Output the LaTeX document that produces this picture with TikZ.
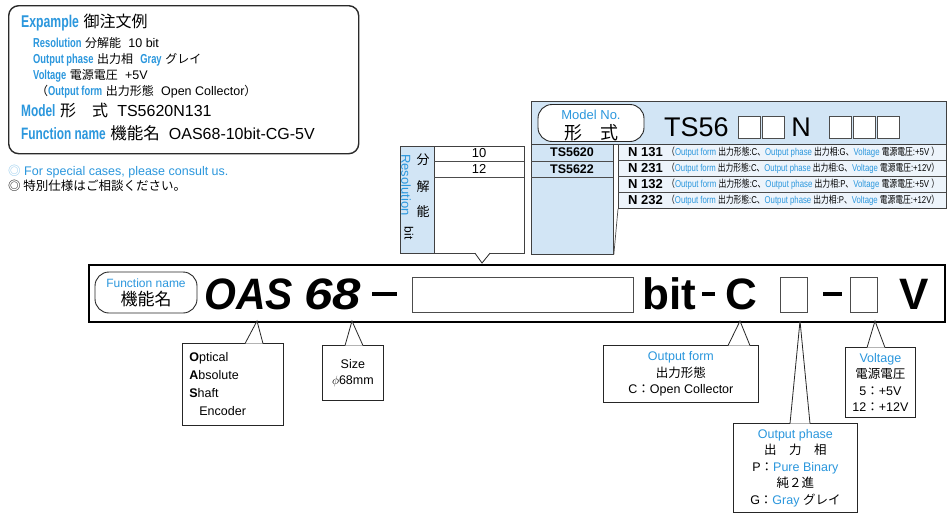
\documentclass[tikz,border=0pt]{standalone}
\usepackage{graphicx}
\usepackage{fontspec}
\setmainfont{Liberation Sans}
\newfontfamily\jpfont{Noto Sans CJK JP}
\newfontfamily\condfont[FakeStretch=0.78]{Liberation Sans}
\newfontfamily\condbold[FakeStretch=0.72]{Liberation Sans Bold}
\newfontfamily\jpnarrow[FakeStretch=0.78]{Noto Sans CJK JP}
\usetikzlibrary{positioning}
\usetikzlibrary{calc}
\definecolor{tblue}{HTML}{2B97DD}
\definecolor{cellblue}{HTML}{D2E5F5}
\definecolor{rowblue}{HTML}{EDF4FB}
\definecolor{exframecol}{HTML}{2A2A2A}
\newcommand\jp[1]{{\jpfont #1}}
\newcommand\jpn[1]{{\jpnarrow #1}}
\newcommand\bl[1]{{\color{tblue}#1}}
\newcommand\lab[1]{{\condfont\color{tblue}#1}}
\newcommand\blab[1]{{\condbold\color{tblue}#1}}
\newcommand\fs[1]{\fontsize{#1}{#1}\selectfont}
% one line of the N code list
\newcommand\speclist[2]{{\condfont\jpn{（}\lab{Output form} \jpn{出力形態}:C\jpn{、}\lab{Output phase} \jpn{出力相}:#1\jpn{、}\lab{Voltage} \jpn{電源電圧}:#2\jpn{）}}}
\tikzset{
  txt/.style = {anchor=west, inner sep=0pt},
  ctr/.style = {inner sep=0pt},
  % rounded frame round the ordering example
  exframe/.style = {draw=exframecol, line width=1.4pt, rounded corners=10pt, anchor=north west},
  % pill shaped label
  pill/.style = {draw=black!85, line width=0.9pt, fill=white, rounded corners=14pt, inner sep=0pt},
  % cells of the tables
  cell/.style = {draw=black!75, line width=0.8pt, anchor=north west, inner sep=0pt},
  blank/.style = {draw=black!70, line width=0.7pt, fill=white, inner sep=0pt, minimum width=22pt, minimum height=22pt},
  rule/.style = {draw=black!70, line width=0.7pt},
  dashbar/.style = {fill=black, inner sep=0pt, minimum height=3.6pt},
  % boxes under the function name
  callbox/.style = {draw=black!85, line width=0.8pt, fill=white, anchor=north west, align=center, inner sep=0pt, font={\fontsize{12.5}{16.5}\selectfont}},
  ptr/.style = {draw=black!85, line width=0.8pt, fill=white},
  big/.style = {anchor=base west, inner sep=0pt, font={\fontsize{44}{44}\selectfont\bfseries}},
  node distance = 1.5pt
}
\begin{document}
\begin{tikzpicture}[x=1pt, y=-1pt]
  \useasboundingbox (0,0) rectangle (949,514);
  \fill[white] (0,0) rectangle (949,514);

  % ordering example
  \node[exframe, minimum width=350pt, minimum height=148pt] (example) at (8,5) {};
  \node[txt] (exTitle) at (21,23) {\fs{17}\blab{Expample} \jp{\fs{16}御注文例}};
  \node[txt] (exRes) at (33,43) {\fs{13}\blab{Resolution} \jp{\fs{12}分解能}\ \ \fs{12.5}10 bit};
  \node[txt] (exPhase) at (33,60) {\fs{13}\blab{Output phase} \jp{\fs{12}出力相}\ \ \blab{Gray} \jp{\fs{12}グレイ}};
  \node[txt] (exVolt) at (33,76) {\fs{13}\blab{Voltage} \jp{\fs{12}電源電圧}\ \ \fs{12.5}+5V};
  \node[txt] (exForm) at (36,92) {\fs{13}\jp{\fs{12}（}\blab{Output form} \jp{\fs{12}出力形態}\ \ \fs{12.5}Open Collector\jp{\fs{12}）}};
  \node[txt] (exModel) at (21,110) {\fs{16.5}\blab{Model} \jp{\fs{16}形　式}\ \ \fs{16}TS5620N131};
  \node[txt] (exFunc) at (21,133) {\fs{16.5}\blab{Function name} \jp{\fs{16.5}機能名}\ \ \fs{16}OAS68-10bit-CG-5V};
  \node[txt] (noteEn) at (8,172) {\fs{12.5}\jp{\color{tblue!55}◎} \bl{For special cases, please consult us.}};
  \node[txt] (noteJp) at (8,186) {\fs{12.5}\jp{◎ 特別仕様はご相談ください。}};

  % model number table
  \node[cell, fill=cellblue, minimum width=415pt, minimum height=43pt] (header) at (531,101) {};
  \node[pill, minimum width=106pt, minimum height=37pt] (modelNo) at (591,123) {};
  \node[ctr] (modelNoEn) at (591,115) {\fs{13}\bl{Model No.}};
  \node[ctr] (modelNoJp) at (591,132.5) {\fs{18}\jp{形　式}};
  \node[txt] (ts56) at (664,127) {\fs{27}TS56};
  \node[blank] (cb1) at (749,127.5) {};
  \node[blank, right=of cb1] (cb2) {};
  \node[ctr] (codeN) at (801,127) {\fs{27}N};
  \node[blank] (cb3) at (840,127.5) {};
  \node[blank, right=of cb3] (cb4) {};
  \node[blank, right=of cb4] (cb5) {};

  \node[cell, fill=cellblue, minimum width=82pt, minimum height=110pt] (tsCol) at (531,144) {};
  \draw[rule] (531,161) -- (613,161);
  \draw[rule] (531,177) -- (613,177);
  \node[ctr] (ts5620) at (572,152.5) {\fs{12.5}\bfseries TS5620};
  \node[ctr] (ts5622) at (572,169) {\fs{12.5}\bfseries TS5622};

  \node[cell, fill=rowblue, minimum width=328pt, minimum height=64pt] (nRows) at (618,144) {};
  \foreach \y in {160,176,192}
    \draw[rule] (618,\y) -- (946,\y);
  \draw[rule] (nRows.south west) -- (tsCol.south east);
  \foreach \code/\ph/\volt [count=\i] in {131/G/{+5V\ },231/G/+12V,132/P/{+5V\ },232/P/+12V}{
    \node[txt] (nCode\i) at (628,{136+16*\i}) {\fs{13}\bfseries N \code};
    \node[txt] (nSpec\i) at (667,{136+16*\i}) {\resizebox{272pt}{!}{\fs{11}\speclist{\ph}{\volt}}};
  }

  % resolution table
  \node[cell, fill=cellblue, minimum width=34pt, minimum height=107pt] (resHead) at (400,146) {};
  \node[cell, fill=white, minimum width=90pt, minimum height=107pt] (resVal) at (434,146) {};
  \draw[rule] (434,161) -- (524,161);
  \draw[rule] (434,177) -- (524,177);
  \node[ctr] (res10) at (479,153.5) {\fs{13}10};
  \node[ctr] (res12) at (479,169) {\fs{13}12};
  \node[ctr, rotate=-90] (resEn) at (406,185) {\fs{13}\bl{Resolution}};
  \node[ctr] (resJp1) at (423,160) {\fs{13}\jp{分}};
  \node[ctr] (resJp2) at (423,187) {\fs{13}\jp{解}};
  \node[ctr] (resJp3) at (423,212) {\fs{13}\jp{能}};
  \node[ctr, rotate=-90] (resBit) at (409,233) {\fs{12}bit};
  \coordinate (resTip) at (482,263);
  \draw[ptr] ($(resVal.south west)+(41,-0.6)$) -- (resTip) -- ($(resVal.south west)+(56,-0.6)$);

  % function name
  \node[cell, draw=black, line width=2.2pt, minimum width=856pt, minimum height=57pt] (bar) at (88,264) {};
  \node[pill, minimum width=102pt, minimum height=41pt] (funcName) at (146,292.5) {};
  \node[ctr] (funcNameEn) at (146,283) {\fs{12}\bl{Function name}};
  \node[ctr] (funcNameJp) at (146,299.5) {\fs{17}\jp{機能名}};
  \node[big] (oas) at (204,309) {\scalebox{0.93}[1]{\itshape OAS}};
  \node[big] (size68) at (304,309) {\scalebox{1.16}[1]{\itshape 68}};
  \node[dashbar, minimum width=25pt] (dash1) at (384.5,294) {};
  \node[blank, minimum width=221pt, minimum height=35pt] (resBlank) at (522.5,294.5) {};
  \node[big] (bitTxt) at (642,309) {bit};
  \node[dashbar, minimum width=13pt] (dash2) at (708,294) {};
  \node[big] (cTxt) at (725,309) {C};
  \node[blank, minimum width=27pt, minimum height=35pt] (phaseBlank) at (793.5,294.5) {};
  \node[dashbar, minimum width=19pt] (dash3) at (832.5,294) {};
  \node[blank, minimum width=27pt, minimum height=35pt] (voltBlank) at (863.5,294.5) {};
  \node[big] (vTxt) at (899,309) {V};

  % explanations
  \node[callbox, minimum width=101pt, minimum height=82pt, align=left, text width=87pt, font={\fontsize{12.5}{18}\selectfont}] (encoder) at (182,343)
    {\textbf{O}ptical\\\textbf{A}bsolute\\\textbf{S}haft\\\hspace*{10pt}Encoder};
  \node[callbox, minimum width=61pt, minimum height=55pt] (sizeBox) at (322,345) {Size\\$\phi$68mm};
  \node[callbox, minimum width=155pt, minimum height=57pt] (formBox) at (603,345)
    {\bl{Output form}\\\jp{出力形態}\\C\jp{：}Open Collector};
  \node[callbox, minimum width=124pt, minimum height=89pt] (phaseBox) at (733,423)
    {\bl{Output phase}\\\jp{出　力　相}\\P\jp{：}\bl{Pure Binary}\\\jp{純２進}\\G\jp{：}\bl{Gray} \jp{グレイ}};
  \node[callbox, minimum width=70pt, minimum height=70pt] (voltBox) at (845,347)
    {\bl{Voltage}\\\jp{電源電圧}\\5\jp{：}+5V\\12\jp{：}+12V};

  \coordinate (encTip) at (257,321);
  \coordinate (sizeTip) at (352,321);
  \coordinate (formTip) at (740,321);
  \coordinate (phaseTip) at (800,321);
  \coordinate (voltTip) at (875,321);
  \draw[ptr] ($(encoder.north west)+(63,0.6)$) -- (encTip) -- ($(encoder.north west)+(81,0.6)$);
  \draw[ptr] ($(sizeBox.north west)+(23,0.6)$) -- (sizeTip) -- ($(sizeBox.north west)+(41,0.6)$);
  \draw[ptr] ($(formBox.north west)+(125,0.6)$) -- (formTip) -- ($(formBox.north west)+(147,0.6)$);
  \draw[ptr] ($(phaseBox.north west)+(57,0.6)$) -- (phaseTip) -- ($(phaseBox.north west)+(77,0.6)$);
  \draw[ptr] ($(voltBox.north west)+(22,0.6)$) -- (voltTip) -- ($(voltBox.north west)+(40,0.6)$);
\end{tikzpicture}
\end{document}
